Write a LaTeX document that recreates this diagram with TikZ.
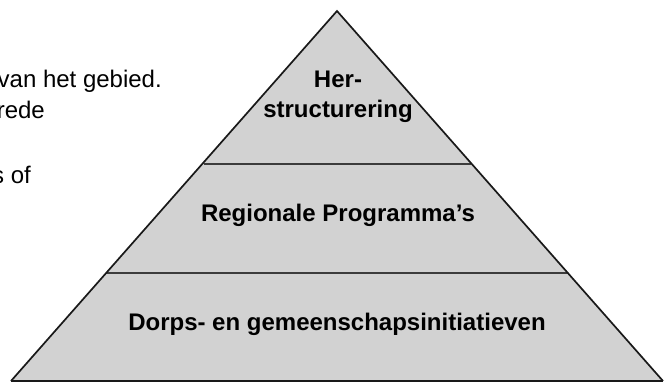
\documentclass[tikz,border=0pt]{standalone}
\usepackage{fontspec}
\setmainfont{Liberation Sans}
\definecolor{pyrfill}{RGB}{210,210,210}
\definecolor{pyrline}{RGB}{25,25,25}
\begin{document}
\begin{tikzpicture}[x=1pt,y=-1pt,
  edge/.style={draw=pyrline,line width=1.7pt,line join=miter},
  divider/.style={draw=pyrline!85,line width=1.6pt},
  lbl/.style={font=\fontsize{24}{29}\selectfont\bfseries,anchor=base,inner sep=0pt},
  side/.style={font=\fontsize{24}{29}\selectfont,anchor=base east,inner sep=0pt}]
\useasboundingbox (0,0) rectangle (665,384);
\coordinate (apex) at (337,11);
\coordinate (bl) at (11,381);
\coordinate (br) at (663,381);
\coordinate (m1l) at (203.7,164);
\coordinate (m1r) at (471.2,164);
\coordinate (m2l) at (106.4,273);
\coordinate (m2r) at (567.9,273);
\fill[pyrfill] (apex) -- (br) -- (bl) -- cycle;
\draw[divider] (m1l) -- (m1r);
\draw[divider] (m2l) -- (m2r);
\draw[edge] (bl) -- (apex) -- (br);
\draw[draw=pyrline,line width=2.8pt] (bl) -- (br);
\node[lbl] (her) at (338,87) {Her-};
\node[lbl] (str) at (338,117) {structurering};
\node[lbl] (reg) at (338,221) {Regionale Programma’s};
\node[lbl] (dor) at (337,330) {Dorps- en gemeenschapsinitiatieven};
\node[side] (t1) at (162,87) {van het gebied.};
\node[side] (t2) at (45,118) {rede};
\node[side] (t3) at (31,183) {s of};
\end{tikzpicture}
\end{document}
